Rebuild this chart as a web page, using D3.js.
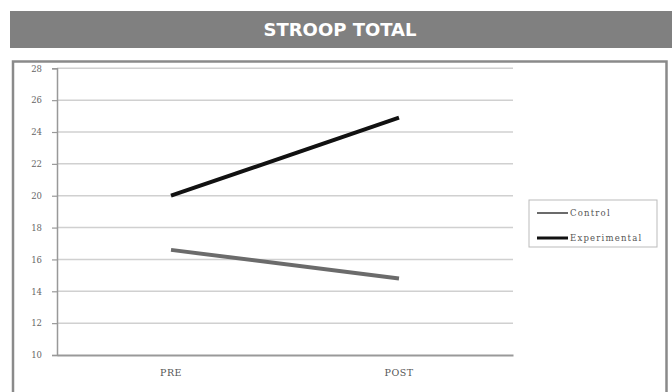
<!DOCTYPE html>
<html>
<head>
<meta charset="utf-8">
<script src="https://cdn.jsdelivr.net/npm/d3@7/dist/d3.min.js"></script>
<style>
  html, body { margin: 0; padding: 0; background: #fff; }
  svg { display: block; }
</style>
</head>
<body>
<script>
// Stroop total scores, before and after the intervention
const title = "STROOP TOTAL";
const phases = ["PRE", "POST"];
const controlScores = [16.6, 14.8];
const experimentalScores = [20.0, 24.9];
const seriesNames = ["Control", "Experimental"];
const yTicks = [10, 12, 14, 16, 18, 20, 22, 24, 26, 28];

const W = 672, H = 392;
const svg = d3.select("body").append("svg").attr("width", W).attr("height", H);

// Title banner
svg.append("rect").attr("x", 10).attr("y", 11).attr("width", W - 10).attr("height", 37).attr("fill", "#808080");
svg.append("text").attr("x", 340).attr("y", 36).attr("text-anchor", "middle")
  .attr("fill", "#fff").attr("font-family", "DejaVu Sans, Verdana, sans-serif")
  .attr("font-weight", "bold").attr("font-size", 18).text(title);

// Chart frame (left, top, right edges)
svg.append("path").attr("d", `M13,${H} V61.5 H666.5 V${H}`)
  .attr("fill", "none").attr("stroke", "#8a8a8a").attr("stroke-width", 2.5);

const plot = { left: 57, right: 513, top: 68.3, bottom: 355 };

const x = d3.scaleBand().domain(phases).range([plot.left, plot.right]);
const y = d3.scaleLinear().domain([10, 28]).range([plot.bottom, plot.top]);

// Horizontal gridlines
svg.append("g").selectAll("line").data(yTicks.filter(t => t > 10)).join("line")
  .attr("x1", plot.left).attr("x2", plot.right)
  .attr("y1", d => y(d)).attr("y2", d => y(d))
  .attr("stroke", "#d0d0d0").attr("stroke-width", 1.5);

// Y axis
const yAxis = svg.append("g").attr("transform", `translate(${plot.left},0)`)
  .call(d3.axisLeft(y).tickValues(yTicks).tickSize(5).tickPadding(10).tickFormat(d3.format("d")));
yAxis.select(".domain").attr("stroke", "#999").attr("stroke-width", 1.5);
yAxis.selectAll(".tick line").attr("stroke", "#999").attr("stroke-width", 1.2);
yAxis.selectAll("text").attr("fill", "#666").attr("font-size", 8.5)
  .attr("font-family", "DejaVu Serif, serif");

// X axis
const xAxis = svg.append("g").attr("transform", `translate(0,${plot.bottom})`)
  .call(d3.axisBottom(x).tickSize(0).tickPadding(14));
xAxis.select(".domain").attr("stroke", "#999").attr("stroke-width", 2);
xAxis.selectAll("text").attr("fill", "#555").attr("font-size", 9.5)
  .attr("letter-spacing", 0.5).attr("font-family", "DejaVu Serif, serif");

// Series lines
const series = [
  { name: seriesNames[0], values: controlScores, color: "#6b6b6b", width: 4, legendWidth: 2 },
  { name: seriesNames[1], values: experimentalScores, color: "#111", width: 4, legendWidth: 3 }
];
const line = d3.line().x((d, i) => x(phases[i]) + x.bandwidth() / 2).y(d => y(d));
svg.append("g").selectAll("path").data(series).join("path")
  .attr("d", d => line(d.values))
  .attr("fill", "none").attr("stroke", d => d.color).attr("stroke-width", d => d.width);

// Legend
const lg = svg.append("g").attr("transform", "translate(529,200)");
lg.append("rect").attr("width", 128).attr("height", 47)
  .attr("fill", "#fff").attr("stroke", "#bbb").attr("stroke-width", 1);
const item = lg.selectAll("g").data(series).join("g")
  .attr("transform", (d, i) => `translate(8,${13 + i * 25})`);
item.append("line").attr("x1", 0).attr("x2", 31)
  .attr("stroke", d => d.color).attr("stroke-width", d => d.legendWidth);
item.append("text").attr("x", 33).attr("y", 3).attr("fill", "#555")
  .attr("font-size", 8.5).attr("letter-spacing", 1.2)
  .attr("font-family", "DejaVu Serif, serif").text(d => d.name);
</script>
</body>
</html>
